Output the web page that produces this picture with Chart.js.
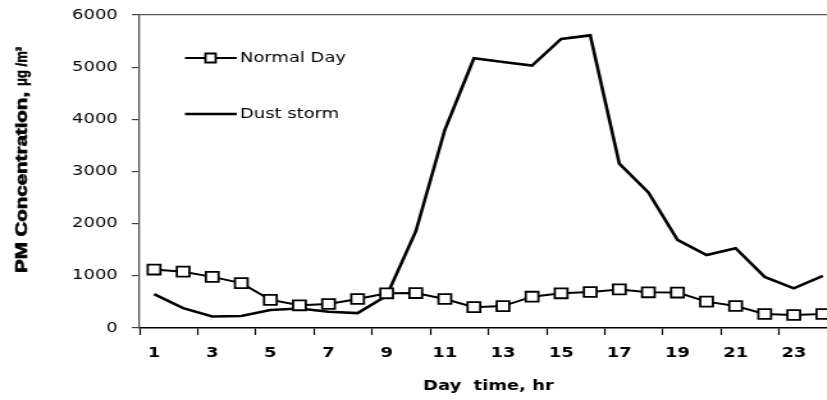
<!DOCTYPE html>
<html>
<head>
<meta charset="utf-8">
<script src="https://cdn.jsdelivr.net/npm/chart.js@4/dist/chart.umd.min.js"></script>
<style>
  html, body { margin: 0; padding: 0; background: #fff; overflow: hidden; width: 827px; height: 400px; }
  #wrap { width: 827px; height: 400px; overflow: hidden; position: relative; }
  canvas { position: absolute; left: 0; top: 0; transform: scaleX(1.28); transform-origin: 0 0; }
</style>
</head>
<body>
<div id="wrap"><canvas id="c" width="663" height="400"></canvas></div>
<script>
const hours = ['1','2','3','4','5','6','7','8','9','10','11','12','13','14','15','16','17','18','19','20','21','22','23','24'];
const normalDay = [1120, 1080, 980, 860, 540, 435, 460, 556, 665, 670, 556, 400, 420, 600, 665, 690, 740, 684, 680, 505, 422, 268, 249, 268];
const dustStorm = [650, 380, 220, 230, 345, 375, 312, 285, 620, 1850, 3800, 5170, 5100, 5030, 5540, 5610, 3150, 2600, 1690, 1400, 1530, 980, 760, 1000];
const yTicks = [0, 1000, 2000, 3000, 4000, 5000, 6000];
const seriesNames = ['Normal Day', 'Dust storm'];
const yTitleMain = 'PM Concentration,';
const yTitleUnit = 'μg /m³';

const legendPlugin = {
  id: 'insideLegend',
  afterDraw(chart) {
    const ctx = chart.ctx;
    ctx.save();
    const items = [
      { y: 58, ds: chart.data.datasets[0], marker: true },
      { y: 114, ds: chart.data.datasets[1], marker: false }
    ];
    items.forEach(it => {
      ctx.strokeStyle = '#000';
      ctx.lineWidth = it.ds.borderWidth;
      ctx.beginPath();
      ctx.moveTo(144.5, it.y);
      ctx.lineTo(185, it.y);
      ctx.stroke();
      if (it.marker) {
        ctx.fillStyle = '#fff';
        ctx.strokeStyle = '#000';
        ctx.lineWidth = 1.8;
        ctx.beginPath();
        ctx.rect(164.5 - 4, it.y - 4.5, 8, 9);
        ctx.fill();
        ctx.stroke();
      }
      ctx.fillStyle = '#000';
      ctx.font = '14px "DejaVu Sans"';
      ctx.textBaseline = 'middle';
      ctx.textAlign = 'left';
      ctx.fillText(it.ds.label, 187.5, it.y);
    });
    ctx.restore();
  }
};

const yTitlePlugin = {
  id: 'yTitle',
  afterDraw(chart) {
    const ctx = chart.ctx;
    ctx.save();
    ctx.fillStyle = '#000';
    ctx.strokeStyle = '#000';
    ctx.textBaseline = 'alphabetic';
    ctx.textAlign = 'left';
    ctx.translate(21, 273);
    ctx.rotate(-Math.PI / 2);
    ctx.save();
    ctx.scale(1, 0.62);
    ctx.font = 'bold 20.5px "Liberation Sans"';
    ctx.lineWidth = 0.9;
    const w = ctx.measureText(yTitleMain).width;
    ctx.fillText(yTitleMain, 0, 0);
    ctx.strokeText(yTitleMain, 0, 0);
    ctx.restore();
    ctx.font = 'bold 13px "Liberation Sans"';
    ctx.lineWidth = 0.5;
    ctx.fillText(yTitleUnit, w + 6, 0);
    ctx.strokeText(yTitleUnit, w + 6, 0);
    ctx.restore();
  }
};

new Chart(document.getElementById('c'), {
  type: 'line',
  data: {
    labels: hours,
    datasets: [
      {
        label: seriesNames[0],
        data: normalDay,
        borderColor: '#000',
        borderWidth: 2,
        pointStyle: 'rect',
        pointRadius: 7,
        pointBorderWidth: 1.8,
        pointBackgroundColor: '#fff',
        pointBorderColor: '#000',
        tension: 0,
        order: 1
      },
      {
        label: seriesNames[1],
        data: dustStorm,
        borderColor: '#000',
        borderWidth: 2.6,
        pointRadius: 0,
        tension: 0,
        order: 2
      }
    ]
  },
  options: {
    responsive: false,
    animation: false,
    devicePixelRatio: 1,
    layout: { padding: { top: 15, left: 0, right: 0, bottom: 0 } },
    plugins: { legend: { display: false }, tooltip: { enabled: false } },
    scales: {
      x: {
        type: 'category',
        offset: true,
        grid: {
          offset: true,
          drawOnChartArea: false,
          tickLength: 7,
          tickWidth: 1.2,
          tickColor: (c) => (c.index % 2 === 0 ? '#000' : 'rgba(0,0,0,0)')
        },
        border: { display: true, color: '#000', width: 1.5 },
        ticks: {
          autoSkip: false,
          maxRotation: 0,
          padding: 10,
          color: '#000',
          font: { family: '"DejaVu Sans"', size: 14, weight: 'bold' },
          callback: (v, i) => (i % 2 === 0 ? hours[i] : '')
        },
        title: {
          display: true,
          text: 'Day  time, hr',
          color: '#000',
          font: { family: '"DejaVu Sans"', size: 14, weight: 'bold' },
          padding: { top: 4, bottom: 5 }
        },
        afterFit: (s) => { s.height = 72; s.paddingLeft = 0; s.paddingRight = 0; }
      },
      y: {
        min: 0,
        max: 6000,
        afterBuildTicks: (s) => { s.ticks = yTicks.map(v => ({ value: v })); },
        grid: {
          drawOnChartArea: true,
          color: (c) => (c.tick && c.tick.value === 6000 ? '#555' : 'rgba(0,0,0,0)'),
          lineWidth: 1.2,
          tickLength: 6,
          tickColor: '#444',
          tickWidth: 1.2
        },
        border: { display: true, color: '#555', width: 1.3 },
        ticks: {
          padding: 11,
          color: '#000',
          font: { family: '"DejaVu Sans"', size: 14 },
          callback: (v) => String(v)
        },
        title: { display: false },
        afterFit: (s) => { s.width = 109; s.paddingTop = 0; s.paddingBottom = 0; }
      }
    }
  },
  plugins: [legendPlugin, yTitlePlugin]
});
</script>
</body>
</html>
